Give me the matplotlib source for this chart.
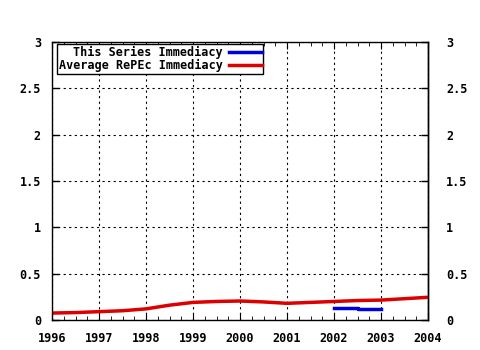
import matplotlib
matplotlib.use('Agg')
import matplotlib.pyplot as plt
from matplotlib.ticker import MultipleLocator, FormatStrFormatter

# average RePEc immediacy, read at half-year steps
avg_years = [1996, 1996.5, 1997, 1997.5, 1998, 1998.5, 1999, 1999.5, 2000,
             2000.5, 2001, 2001.5, 2002, 2002.5, 2003, 2003.5, 2004]
avg_vals = [0.075, 0.08, 0.09, 0.10, 0.12, 0.16, 0.19, 0.20, 0.205,
            0.195, 0.18, 0.19, 0.20, 0.21, 0.215, 0.23, 0.245]

# this series immediacy
ser_years = [2002, 2002.5, 2003]
ser_vals = [0.13, 0.115, 0.115]

year_ticks = list(range(1996, 2005))
y_ticks = [0, 0.5, 1, 1.5, 2, 2.5, 3]

plt.rcParams['font.family'] = 'DejaVu Sans Mono'
plt.rcParams['font.weight'] = 'bold'
plt.rcParams['font.size'] = 8.5

fig = plt.figure(figsize=(4.8, 3.5), dpi=100)
ax = fig.add_axes([52/480, 30/350, 376/480, 278/350])

ax.plot(ser_years, ser_vals, color='#0000dd', lw=2.5, drawstyle='steps-post',
        label='This Series Immediacy')
ax.plot(avg_years, avg_vals, color='#dd0000', lw=2.5,
        label='Average RePEc Immediacy')

ax.set_xlim(1996, 2004)
ax.set_ylim(0, 3)
ax.set_xticks(year_ticks)
ax.set_xticklabels([str(y) for y in year_ticks])
ax.xaxis.set_minor_locator(MultipleLocator(0.25))
ax.set_yticks(y_ticks)
ax.yaxis.set_major_formatter(FormatStrFormatter('%g'))

ax.tick_params(axis='both', which='both', direction='in', top=True, right=True,
               color='black', labelsize=8.5)
ax.tick_params(axis='y', which='major', length=5, width=1, pad=8)
ax.tick_params(axis='x', which='minor', length=3)
ax.tick_params(axis='x', which='major', length=5, pad=9)
for s in ax.spines.values():
    s.set_linewidth(1)
    s.set_color('black')

# right-hand labels sit further from the frame
sec = ax.secondary_yaxis('right')
sec.set_yticks(y_ticks)
sec.yaxis.set_major_formatter(FormatStrFormatter('%g'))
sec.tick_params(direction='in', length=0, pad=13, labelsize=8.5)
sec.spines['right'].set_linewidth(1)

ax.grid(True, which='major', color='black', linestyle=(0, (2, 3)), lw=0.8)

leg = ax.legend(loc='upper left', bbox_to_anchor=(5/376, 1 - 2/278),
                markerfirst=False, fancybox=False,
                framealpha=1, edgecolor='black', borderpad=0.15,
                handlelength=2.8, handletextpad=0.5, labelspacing=0.0,
                borderaxespad=0.0, fontsize=8.5)
for t in leg.get_texts():
    t.set_ha('right')
leg.get_frame().set_linewidth(1)

fig.savefig('out.png', dpi=100)
